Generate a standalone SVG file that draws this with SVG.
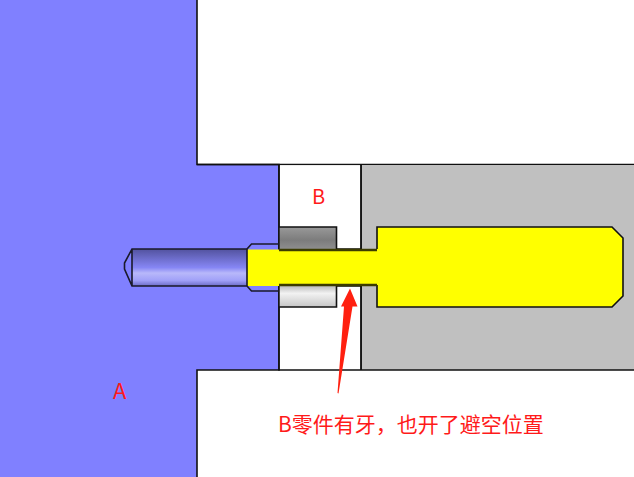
<svg xmlns="http://www.w3.org/2000/svg" width="634" height="477" viewBox="0 0 634 477">
<style>
.o{stroke:#1a1a2a;stroke-width:1.6;fill:none}
.k{stroke:#111;stroke-width:1.6}
text{fill:#ff1a1a;font-family:"Noto Sans CJK SC","Liberation Sans",sans-serif}
</style>
<defs>
<linearGradient id="pin" x1="0" y1="0" x2="0" y2="1">
<stop offset="0" stop-color="#52529e"/><stop offset=".5" stop-color="#8686f4"/><stop offset=".65" stop-color="#b8b8fa"/><stop offset=".85" stop-color="#a0a0f8"/><stop offset="1" stop-color="#6c6cc8"/>
</linearGradient>
<linearGradient id="dk" x1="0" y1="0" x2="0" y2="1"><stop offset="0" stop-color="#999"/><stop offset=".6" stop-color="#7c7c7c"/><stop offset="1" stop-color="#8e8e8e"/></linearGradient>
<linearGradient id="lt" x1="0" y1="0" x2="0" y2="1"><stop offset="0" stop-color="#bdbdbd"/><stop offset=".35" stop-color="#f2f2f2"/><stop offset="1" stop-color="#c6c6c6"/></linearGradient>
</defs>
<rect width="634" height="477" fill="#fff"/>
<g id="part-a">
<path d="M0 0H197V164.500H279V370H197V477H0Z" fill="#8080ff"/>
<path class="k" fill="none" d="M197 0V164.500H279V370H197V477"/>
</g>
<g id="block-top"><path class="k" fill="none" d="M197 164.500H634"/></g>
<g id="part-gray">
<rect x="361" y="165" width="273" height="205" fill="#c0c0c0"/>
<path class="k" fill="none" d="M361 165V370"/>
</g>
<g id="part-b">
<rect x="279.800" y="165.300" width="80.500" height="204" fill="#fff"/>
<path class="k" fill="none" d="M279 164.500V370H634M361 164.500V370"/>
<text x="312" y="204" font-size="20">B</text>
</g>
<g id="thread-top"><rect x="279.800" y="227" width="56.500" height="22" fill="url(#dk)"/><path class="k" fill="none" d="M279 227H336.500V249H361"/></g>
<g id="thread-bottom"><rect x="279.800" y="286" width="56.500" height="21" fill="url(#lt)"/><path class="k" fill="none" d="M279 307H336.500V286H361"/></g>
<g id="screw">
<path d="M247 249.500H279V251H377V227H612L623 238V296L612 307H377V284H279V286H247Z" fill="#ff0"/>
<path class="k" fill="none" d="M377 249V227H612L623 238V296L612 307H377V285"/>
<path d="M279 250H377M279 285H377" stroke="#3c3c00" stroke-width="2.400" fill="none"/>
</g>
<g id="pin">
<rect x="132" y="249" width="115" height="37" fill="url(#pin)"/>
<path class="o" d="M247 249H132L124.500 263V269L132 286H247ZM132 249V286"/>
<path class="o" d="M247 249L251.500 244H279M247 286L251.500 291H279"/>
</g>
<g id="connectors">
<path d="M350 288.500L357.500 306.500H352.500L338.500 393.500L337.500 393L344 306.500H341Z" fill="#ff2010"/>
</g>
<g id="labels">
<text x="113" y="399" font-size="22">A</text>
<text x="278" y="432" font-size="21">B零件有牙，也开了避空位置</text>
</g>
</svg>
